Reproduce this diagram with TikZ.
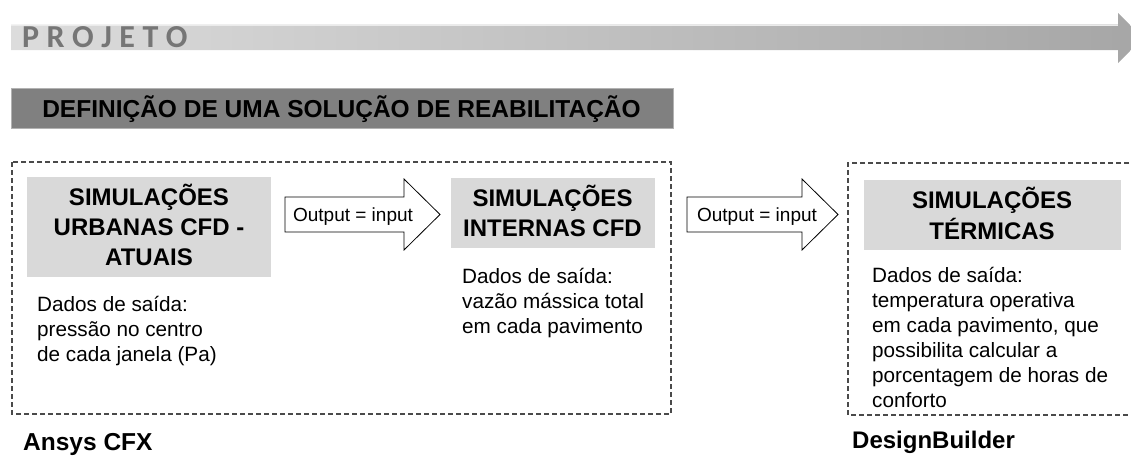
\documentclass[tikz,border=0pt]{standalone}
\usepackage{fontspec}
\setmainfont{Liberation Sans}
\newfontfamily\calfont{Carlito}[BoldFont={Carlito Bold}]
\newcommand{\ls}{\hspace{7.5pt}}
\definecolor{boxgray}{HTML}{D9D9D9}
\definecolor{defgray}{HTML}{808080}
\definecolor{dashcol}{HTML}{4A4A4A}
\definecolor{projgray}{HTML}{767676}
\definecolor{bandL}{HTML}{DCDCDC}
\definecolor{bandR}{HTML}{A6A6A6}
\tikzset{
  titlebox/.style={fill=boxgray, inner sep=0pt},
  ttl/.style={font=\bfseries\fontsize{24}{30}\selectfont, align=center, inner sep=0pt, anchor=north},
  body/.style={font=\fontsize{20.7}{25}\selectfont, align=left, inner sep=0pt, anchor=north west},
  tool/.style={font=\bfseries\fontsize{24}{30}\selectfont, inner sep=0pt, anchor=base west},
  dashbox/.style={draw=dashcol, line width=1.1pt, dash pattern=on 5pt off 3pt},
  blockarrow/.style={draw=black, fill=white, line width=0.8pt, line join=miter},
  arrowtext/.style={font=\fontsize{19}{22}\selectfont, inner sep=0pt, anchor=base},
}
\begin{document}
\begin{tikzpicture}[x=1pt, y=-1pt]
\useasboundingbox (0,0) rectangle (1131,455);
\clip (0,0) rectangle (1131,455);
% top arrow
\path[left color=bandL, right color=bandR]
  (11,24.5) -- (1118,24.5) -- (1118,13) -- (1143,38) -- (1118,63) -- (1118,50) -- (11,50) -- cycle;
\draw[white!92!black, line width=0.6pt] (11,24.8) -- (1118,24.8);
\node[font=\calfont\bfseries\fontsize{32}{32}\selectfont, text=projgray, inner sep=0pt, anchor=base west] (proj) at (22,47) {P\ls R\ls O\ls J\ls E\ls T\ls O};
% definition box
\node[fill=defgray, draw=gray!60, line width=0.6pt, minimum width=662pt, minimum height=40pt, inner sep=0pt] (def) at (342,108) {};
\node[font=\bfseries\fontsize{24.5}{28}\selectfont, inner sep=0pt, anchor=base] (deft) at (341.5,117) {DEFINIÇÃO DE UMA SOLUÇÃO DE REABILITAÇÃO};
% dashed groups
\draw[dashbox] (12,162) rectangle (671,414);
\draw[dashbox] (1145,163) -- (848,163) -- (848,415) -- (1145,415);
% title boxes
\node[titlebox, minimum width=244pt, minimum height=100pt] (b1) at (149,227) {};
\node[ttl] (b1t) at (149,184) {\strut SIMULAÇÕES\\URBANAS CFD -\\ATUAIS};
\node[titlebox, minimum width=204pt, minimum height=70pt] (b2) at (553,213) {};
\node[ttl] (b2t) at (552.5,185) {\strut SIMULAÇÕES\\INTERNAS CFD};
\node[titlebox, minimum width=257pt, minimum height=70pt] (b3) at (992.5,215) {};
\node[ttl] (b3t) at (992,186.5) {\strut SIMULAÇÕES\\TÉRMICAS};
% body texts
\node[body] (d1) at (37,293.5) {\strut Dados de saída:\\pressão no centro\\de cada janela (Pa)};
\node[body] (d2) at (462,265.5) {\strut Dados de saída:\\vazão mássica total\\em cada pavimento};
\node[body] (d3) at (872,264.5) {\strut Dados de saída:\\temperatura operativa\\em cada pavimento, que\\possibilita calcular a\\porcentagem de horas de\\conforto};
% tools
\node[tool, font=\bfseries\fontsize{24.5}{30}\selectfont] (ansys) at (23,450.5) {Ansys CFX};
\node[tool] (db) at (852,448.5) {DesignBuilder};
% block arrows
\draw[blockarrow] (285,197) -- (404,197) -- (404,179) -- (440,214.5) -- (404,250) -- (404,232) -- (285,232) -- cycle;
\node[arrowtext] (a1) at (353,221) {Output = input};
\draw[blockarrow] (687,197) -- (802,197) -- (802,179) -- (838,214.5) -- (802,250) -- (802,232) -- (687,232) -- cycle;
\node[arrowtext] (a2) at (757,221) {Output = input};
\end{tikzpicture}
\end{document}
